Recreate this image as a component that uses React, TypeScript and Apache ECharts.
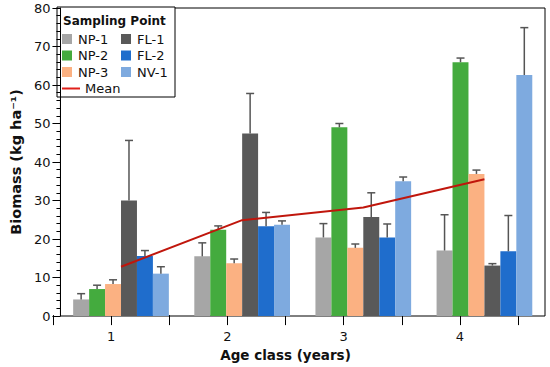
import React, { useEffect, useRef } from 'react';
import * as echarts from 'echarts';

// ---- data ----
const ageClasses = ['1', '2', '3', '4'];
const pointNames = ['NP-1', 'NP-2', 'NP-3', 'FL-1', 'FL-2', 'NV-1'];
const pointColors = ['#a6a6a6', '#44ab3e', '#fbb182', '#595959', '#1f6dcc', '#7eaadf'];

const np1 = [4.3, 15.5, 20.4, 17.0];
const np2 = [7.0, 22.4, 49.0, 65.9];
const np3 = [8.3, 13.7, 17.7, 36.9];
const fl1 = [30.0, 47.4, 25.7, 13.1];
const fl2 = [15.6, 23.3, 20.4, 16.8];
const nv1 = [11.0, 23.7, 35.0, 62.6];

const np1Err = [1.5, 3.5, 3.6, 9.3];
const np2Err = [1.0, 1.0, 1.0, 1.1];
const np3Err = [1.1, 1.1, 1.0, 1.0];
const fl1Err = [15.6, 10.4, 6.3, 0.5];
const fl2Err = [1.4, 3.6, 3.5, 9.3];
const nv1Err = [1.8, 1.0, 1.1, 12.3];

const meanName = 'Mean';
const meanValues = [12.8, 24.9, 28.2, 35.5];

const legendTitle = 'Sampling Point';
const xTitle = 'Age class (years)';
const yTitle = 'Biomass (kg ha\u207B\u00B9)';
const xTickValues = [0.5, 1, 1.5, 2, 2.5, 3, 3.5, 4, 4.5];
const xLabelValues = [1, 2, 3, 4];

const seriesValues = [np1, np2, np3, fl1, fl2, nv1];
const seriesErrors = [np1Err, np2Err, np3Err, fl1Err, fl2Err, nv1Err];

const FONT = 'DejaVu Sans';
const CAT_GAP = 0.21;

export default function App() {
  const ref = useRef<HTMLDivElement>(null);

  useEffect(() => {
    document.body.style.margin = '0';
    if (!ref.current) return;
    const chart = echarts.init(ref.current, null, { renderer: 'svg' });

    const nSeries = pointNames.length;

    const barSeries = pointNames.map((name, i) => ({
      name,
      type: 'bar',
      xAxisIndex: 0,
      yAxisIndex: 0,
      data: seriesValues[i],
      barGap: '0%',
      barCategoryGap: `${CAT_GAP * 100}%`,
      itemStyle: { color: pointColors[i] },
      z: 2,
    }));

    const errSeries = pointNames.map((name, i) => ({
      name: name + '-err',
      type: 'custom',
      xAxisIndex: 0,
      yAxisIndex: 0,
      z: 3,
      data: seriesValues[i].map((v, k) => [k, v, v + seriesErrors[i][k]]),
      renderItem: (params: any, api: any) => {
        const band = api.size([1, 0])[0];
        const barW = (band * (1 - CAT_GAP)) / nSeries;
        const off = (i - (nSeries - 1) / 2) * barW;
        const base = api.coord([api.value(0), api.value(1)]);
        const top = api.coord([api.value(0), api.value(2)]);
        const x = base[0] + off;
        const style = { stroke: '#555555', lineWidth: 1.5 };
        return {
          type: 'group',
          children: [
            { type: 'line', shape: { x1: x, y1: base[1], x2: x, y2: top[1] }, style },
            { type: 'line', shape: { x1: x - 4, y1: top[1], x2: x + 4, y2: top[1] }, style },
          ],
        };
      },
    }));

    const meanSeries = {
      name: meanName,
      type: 'line',
      xAxisIndex: 0,
      yAxisIndex: 0,
      data: meanValues,
      symbol: 'none',
      lineStyle: { color: '#c0160c', width: 2 },
      z: 4,
    };

    // legend graphic
    const lx = 57;
    const ly = 7;
    const legendChildren: any[] = [
      {
        type: 'rect',
        shape: { x: lx, y: ly, width: 118, height: 90 },
        style: { fill: '#ffffff', stroke: '#000000', lineWidth: 1 },
      },
      {
        type: 'text',
        style: {
          x: lx + 6,
          y: ly + 14,
          text: legendTitle,
          font: `bold 12px "${FONT}"`,
          fill: '#111',
          verticalAlign: 'middle',
        },
      },
    ];
    pointNames.forEach((name, i) => {
      const col = i < 3 ? 0 : 1;
      const row = i % 3;
      const ix = lx + 5 + col * 59;
      const iy = ly + 32 + row * 16.5;
      legendChildren.push({
        type: 'rect',
        shape: { x: ix, y: iy - 5, width: 10, height: 10 },
        style: { fill: pointColors[i] },
      });
      legendChildren.push({
        type: 'text',
        style: {
          x: ix + 16,
          y: iy,
          text: name,
          font: `13px "${FONT}"`,
          fill: '#111',
          verticalAlign: 'middle',
        },
      });
    });
    legendChildren.push({
      type: 'line',
      shape: { x1: lx + 5, y1: ly + 81.5, x2: lx + 23, y2: ly + 81.5 },
      style: { stroke: '#e0201a', lineWidth: 2 },
    });
    legendChildren.push({
      type: 'text',
      style: {
        x: lx + 28,
        y: ly + 81.5,
        text: meanName,
        font: `13px "${FONT}"`,
        fill: '#111',
        verticalAlign: 'middle',
      },
    });

    chart.setOption({
      animation: false,
      textStyle: { fontFamily: FONT },
      grid: [
        {
          left: 53,
          right: 5,
          top: 8,
          bottom: 51,
          show: true,
          borderColor: '#000',
          borderWidth: 1,
          backgroundColor: 'transparent',
        },
        { left: 53, right: 32, top: 8, bottom: 51 },
      ],
      xAxis: [
        {
          type: 'category',
          gridIndex: 0,
          data: ageClasses,
          axisLine: { show: false },
          axisTick: { show: false },
          axisLabel: { show: false },
        },
        {
          type: 'value',
          gridIndex: 1,
          min: 0.5,
          max: 4.5,
          interval: 0.5,
          axisLine: { show: false },
          splitLine: { show: false },
          axisTick: {
            show: true,
            length: 10,
            customValues: xTickValues,
            lineStyle: { color: '#000', width: 1 },
          },
          axisLabel: {
            show: true,
            customValues: xLabelValues,
            margin: 15,
            fontSize: 13,
            color: '#111',
            fontFamily: FONT,
          },
          name: xTitle,
          nameLocation: 'middle',
          nameGap: 30,
          nameTextStyle: { fontSize: 13.5, fontWeight: 'bold', color: '#111', fontFamily: FONT },
        },
      ],
      yAxis: [
        {
          type: 'value',
          gridIndex: 0,
          min: 0,
          max: 80,
          interval: 10,
          splitLine: { show: false },
          axisLine: { show: true, lineStyle: { color: '#000', width: 1 } },
          axisTick: { show: true, length: 8, lineStyle: { color: '#000' } },
          minorTick: { show: true, splitNumber: 5, length: 4, lineStyle: { color: '#000' } },
          axisLabel: { margin: 10, fontSize: 13, color: '#111', fontFamily: FONT },
          name: yTitle,
          nameLocation: 'middle',
          nameGap: 32,
          nameTextStyle: { fontSize: 14.5, fontWeight: 'bold', color: '#111', fontFamily: FONT },
        },
        {
          type: 'value',
          gridIndex: 1,
          min: 0,
          max: 80,
          show: false,
        },
      ],
      series: [...barSeries, ...errSeries, meanSeries],
      graphic: [{ type: 'group', z: 100, children: legendChildren }],
    });

    return () => chart.dispose();
  }, []);

  return <div ref={ref} style={{ width: 550, height: 367 }} />;
}
